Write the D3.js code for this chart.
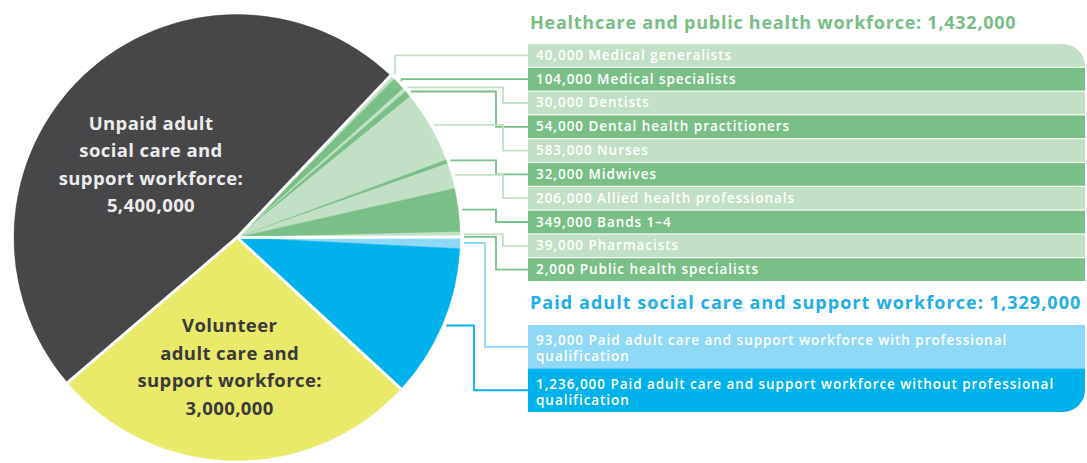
<!DOCTYPE html>
<html>
<head>
<meta charset="utf-8">
<script src="https://cdn.jsdelivr.net/npm/d3@7"></script>
<style>
  body { margin: 0; background: #fff; }
  text { font-family: "Open Sans", sans-serif; }
</style>
</head>
<body>
<div id="chart"></div>
<script>
// data
var healthLabels = ["Medical generalists", "Medical specialists", "Dentists", "Dental health practitioners",
  "Nurses", "Midwives", "Allied health professionals", "Bands 1\u20134", "Pharmacists", "Public health specialists"];
var healthValues = [40000, 104000, 30000, 54000, 583000, 32000, 206000, 349000, 39000, 2000];
var healthTitle = "Healthcare and public health workforce: 1,432,000";

var paidLabels = ["Paid adult care and support workforce with professional qualification",
  "Paid adult care and support workforce without professional qualification"];
var paidValues = [93000, 1236000];
var paidTitle = "Paid adult social care and support workforce: 1,329,000";

var volunteerValue = 3000000;
var volunteerLines = ["Volunteer", "adult care and", "support workforce:", "3,000,000"];
var unpaidValue = 5400000;
var unpaidLines = ["Unpaid adult", "social care and", "support workforce:", "5,400,000"];

var width = 1087, height = 463;
var cx = 237, cy = 237.5, radius = 223;
var fmt = d3.format(",");

var greenLight = "#c1e0c5", greenDark = "#7abf87";
var blueLight = "#8fd8f6", blueDark = "#00b2ec";
var darkGrey = "#474749", yellow = "#e9e96a";

// one list of slices for the pie, clockwise from the top-right
var slices = [];
healthLabels.forEach(function(l, i) {
  slices.push({ group: "health", label: l, value: healthValues[i], index: i, color: i % 2 ? greenDark : greenLight });
});
paidLabels.forEach(function(l, i) {
  slices.push({ group: "paid", label: l, value: paidValues[i], index: i, color: i ? blueDark : blueLight });
});
slices.push({ group: "volunteer", value: volunteerValue, color: yellow });
slices.push({ group: "unpaid", value: unpaidValue, color: darkGrey });

var startAngle = 43.5 * Math.PI / 180;
var pie = d3.pie().sort(null).value(function(d) { return d.value; })
  .startAngle(startAngle).endAngle(startAngle + 2 * Math.PI);
var arcs = pie(slices);
var arc = d3.arc().innerRadius(0).outerRadius(radius);

var svg = d3.select("#chart").append("svg")
  .attr("width", width).attr("height", height);

var pieG = svg.append("g").attr("transform", "translate(" + cx + "," + cy + ")");

pieG.selectAll("path.slice")
  .data(arcs)
  .enter().append("path")
    .attr("class", "slice")
    .attr("d", arc)
    .attr("fill", function(d) { return d.data.color; })
    .attr("stroke", function(d) { return d.data.color; })
    .attr("stroke-width", 0.5);

// white gaps between the four big groups
var boundaries = arcs.filter(function(d, i) {
  var prev = arcs[(i + arcs.length - 1) % arcs.length];
  return prev.data.group !== d.data.group;
}).map(function(d) { return d.startAngle; });

pieG.selectAll("line.gap")
  .data(boundaries)
  .enter().append("line")
    .attr("x1", 0).attr("y1", 0)
    .attr("x2", function(a) { return (radius + 2) * Math.sin(a); })
    .attr("y2", function(a) { return -(radius + 2) * Math.cos(a); })
    .attr("stroke", "#fff")
    .attr("stroke-width", 3);

// big slice labels
var labelArc = d3.arc().innerRadius(radius * 0.56).outerRadius(radius * 0.56);
function pieLabel(group, lines, color, shiftX, shiftY) {
  var d = arcs.find(function(a) { return a.data.group === group; });
  var c = labelArc.centroid(d);
  var lineH = 27.5;
  var t = pieG.append("text")
    .attr("text-anchor", "middle")
    .attr("font-size", 18.5)
    .attr("font-weight", 700)
    .attr("letter-spacing", 0.4)
    .attr("fill", color);
  lines.forEach(function(l, i) {
    t.append("tspan")
      .attr("x", c[0] + shiftX)
      .attr("y", c[1] + (i - (lines.length - 1) / 2) * lineH + 6 + shiftY)
      .text(l);
  });
}
pieLabel("unpaid", unpaidLines, "#ececec", 0, 18);
pieLabel("volunteer", volunteerLines, "#3a3a3a", -5, 5);

// legend boxes
var boxX = 528, boxRight = 1085, textX = 536;

var greenY = d3.scaleBand().domain(healthLabels).range([44, 281]).paddingInner(0.045);
var blueY = d3.scaleBand().domain(paidLabels).range([325, 412]).paddingInner(0);

var defs = svg.append("defs");
var r = 22;
defs.append("clipPath").attr("id", "greenClip").append("path")
  .attr("d", "M" + boxX + ",44H" + (boxRight - r) + "A" + r + "," + r + " 0 0 1 " + boxRight + "," + (44 + r) +
    "V281H" + boxX + "Z");
defs.append("clipPath").attr("id", "blueClip").append("path")
  .attr("d", "M" + boxX + ",325H" + boxRight + "V" + (412 - r) + "A" + r + "," + r + " 0 0 1 " + (boxRight - r) + ",412" +
    "H" + boxX + "Z");

svg.append("text")
  .attr("x", 530).attr("y", 29)
  .attr("font-size", 18).attr("font-weight", 700)
  .attr("letter-spacing", 0.75)
  .attr("fill", "#78bd85")
  .text(healthTitle);

svg.append("text")
  .attr("x", 530).attr("y", 308.5)
  .attr("font-size", 18).attr("font-weight", 700)
  .attr("letter-spacing", 1.05)
  .attr("fill", "#22ade6")
  .text(paidTitle);

var greenRows = svg.append("g").attr("clip-path", "url(#greenClip)");
greenRows.selectAll("rect")
  .data(arcs.filter(function(d) { return d.data.group === "health"; }))
  .enter().append("rect")
    .attr("x", boxX).attr("width", boxRight - boxX)
    .attr("y", function(d) { return greenY(d.data.label); })
    .attr("height", greenY.bandwidth())
    .attr("fill", function(d) { return d.data.color; });

svg.selectAll("text.greenRow")
  .data(healthLabels)
  .enter().append("text")
    .attr("class", "greenRow")
    .attr("x", textX)
    .attr("y", function(d) { return greenY(d) + greenY.bandwidth() / 2 + 4.5; })
    .attr("font-size", 13.5).attr("font-weight", 600)
    .attr("letter-spacing", 0.95)
    .attr("fill", "#fff")
    .text(function(d, i) { return fmt(healthValues[i]) + " " + d; });

var blueRows = svg.append("g").attr("clip-path", "url(#blueClip)");
blueRows.selectAll("rect")
  .data(arcs.filter(function(d) { return d.data.group === "paid"; }))
  .enter().append("rect")
    .attr("x", boxX).attr("width", boxRight - boxX)
    .attr("y", function(d) { return blueY(d.data.label); })
    .attr("height", blueY.bandwidth())
    .attr("fill", function(d) { return d.data.color; });

// wrap long blue labels onto two lines
var maxW = 540;
paidLabels.forEach(function(l, i) {
  var words = (fmt(paidValues[i]) + " " + l).split(" ");
  var t = svg.append("text")
    .attr("x", textX)
    .attr("font-size", 13.5).attr("font-weight", 600)
    .attr("letter-spacing", 0.95)
    .attr("fill", "#fff");
  var lineNo = 0;
  var ts = t.append("tspan").attr("x", textX).attr("y", blueY(l) + 20);
  var line = [];
  words.forEach(function(w) {
    line.push(w);
    ts.text(line.join(" "));
    if (ts.node().getComputedTextLength() > maxW && line.length > 1) {
      line.pop();
      ts.text(line.join(" "));
      line = [w];
      lineNo++;
      ts = t.append("tspan").attr("x", textX).attr("y", blueY(l) + 20 + lineNo * 16).text(w);
    }
  });
});

// connector lines from slice edge to legend row
function connector(d) {
  var mid = (d.startAngle + d.endAngle) / 2;
  var sx = cx + (radius + 4) * Math.sin(mid);
  var sy = cy - (radius + 4) * Math.cos(mid);
  var ty, ex;
  if (d.data.group === "health") {
    ty = greenY(d.data.label) + greenY.bandwidth() / 2;
    ex = 503 - 7 * (d.data.index % 2);
  } else {
    ty = blueY(d.data.label) + blueY.bandwidth() / 2;
    ex = 485 - 11 * d.data.index;
  }
  if (ty < sy) ex = sx;
  return "M" + sx + "," + sy + "H" + ex + "V" + ty + "H" + boxX;
}

svg.selectAll("path.connector")
  .data(arcs.filter(function(d) { return d.data.group === "health" || d.data.group === "paid"; }))
  .enter().append("path")
    .attr("class", "connector")
    .attr("d", connector)
    .attr("fill", "none")
    .attr("stroke", function(d) { return d.data.color; })
    .attr("stroke-width", 1.8);
</script>
</body>
</html>
